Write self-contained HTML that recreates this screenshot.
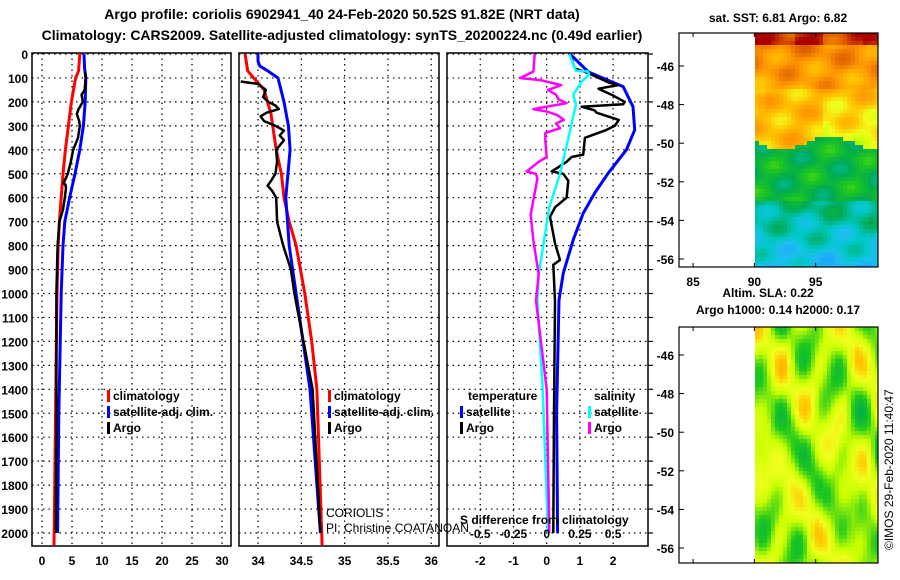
<!DOCTYPE html>
<html><head><meta charset="utf-8"><style>
body{margin:0;background:#fff;}
svg{display:block;font-family:"Liberation Sans",sans-serif;}
.b{font-weight:bold;font-size:12px;}
</style></head><body>
<svg id="c" width="900" height="580" viewBox="0 0 900 580">
<rect width="900" height="580" fill="#fff"/>
<text x="342" y="19" text-anchor="middle" font-size="14" font-weight="bold">Argo profile: coriolis 6902941_40 24-Feb-2020 50.52S 91.82E (NRT data)</text>
<text x="342" y="40" text-anchor="middle" font-size="14" font-weight="bold">Climatology: CARS2009. Satellite-adjusted climatology: synTS_20200224.nc (0.49d earlier)</text>
<g id="maps"></g>
<g id="plots"></g>
<text x="778" y="22" text-anchor="middle" class="b">sat. SST: 6.81  Argo: 6.82</text>
<text x="768" y="297" text-anchor="middle" class="b">Altim. SLA: 0.22</text>
<text x="778" y="314" text-anchor="middle" class="b">Argo h1000: 0.14 h2000: 0.17</text>
<text transform="translate(893,550) rotate(-90)" font-size="12">©IMOS 29-Feb-2020 11:40:47</text>
<text x="326" y="517" font-size="12">CORIOLIS</text>
<text x="326" y="532" font-size="12">PI: Christine COATANOAN</text>
<text x="460" y="524" class="b">S difference from climatology</text>
</svg>
<script>
// ---- data ----
const tClimD=[0,70,100,200,300,400,500,600,700,800,1000,1400,1850,2050];
const tClimV=[6.3,6.1,5.6,4.9,4.4,3.9,3.5,3.2,2.9,2.7,2.5,2.3,2.1,2.0];
const tSatD=[0,60,100,200,300,400,500,600,700,800,1000,1500,2000];
const tSatV=[7.0,7.1,7.3,7.2,6.9,6.3,5.5,4.6,3.8,3.5,3.2,2.8,2.6];
const tArgoD=[75,100,150,170,200,230,250,280,300,350,400,450,500,540,545,560,600,650,700,800,1000,1500,2000];
const tArgoV=[7.2,7.3,7.1,6.6,6.8,6.1,5.8,6.2,6.3,6.0,5.2,4.8,4.3,3.6,3.9,4.0,3.8,3.5,2.9,2.6,2.4,2.4,2.3];
const sClimD=[0,70,100,150,250,400,500,600,700,800,1000,1200,1400,2050];
const sClimV=[33.85,33.88,33.95,34.07,34.15,34.21,34.27,34.30,34.36,34.44,34.54,34.62,34.68,34.74];
const sSatD=[0,30,50,70,100,200,300,400,600,800,1000,1400,2000];
const sSatV=[34.0,34.0,34.02,34.11,34.23,34.30,34.35,34.37,34.32,34.36,34.44,34.6,34.72];
const sArgoD=[115,120,125,150,180,200,215,230,245,260,280,300,320,340,360,400,450,500,530,550,570,600,700,800,900,1000,1400,2000];
const sArgoV=[33.8,33.9,34.0,34.09,34.06,34.12,34.2,34.24,34.1,34.03,34.07,34.2,34.3,34.25,34.3,34.21,34.22,34.2,34.15,34.11,34.16,34.21,34.22,34.29,34.38,34.42,34.63,34.72];
const dTSatD=[0,75,136,220,317,400,498,580,665,776,915,1027,1500,2000];
const dTSatV=[0.7,1.26,2.3,2.6,2.65,2.4,1.85,1.45,1.1,0.8,0.5,0.37,0.3,0.33];
const dTArgoD=[0,60,80,118,130,145,170,200,210,220,235,245,275,300,320,350,420,430,450,490,500,530,600,640,680,790,860,880,1030,1500,2000];
const dTArgoV=[0.7,0.85,1.26,1.85,2.15,1.56,1.95,2.35,2.3,1.05,1.44,1.5,2.17,2.05,1.75,1.15,1.1,0.75,0.6,0.15,0.5,0.65,0.6,0.25,0.1,0.25,0.4,0.2,0.25,0.22,0.2];
const dSSatD=[0,70,73,85,118,170,210,360,500,640,780,920,1030,1400,2000];
const dSSatV=[0.17,0.22,0.31,0.32,0.26,0.2,0.22,0.16,0.1,0.02,-0.02,-0.06,-0.07,-0.03,0.01];
const dSArgoD=[0,73,100,110,130,150,170,190,205,220,230,240,255,275,290,310,330,360,430,450,490,500,520,670,780,920,1030,1400,2000];
const dSArgoV=[-0.09,-0.1,-0.2,-0.04,0.11,0.01,0.07,0.09,0.15,0.0,-0.1,0.0,0.08,0.13,0.07,0.1,-0.01,-0.01,0,-0.06,-0.15,-0.08,-0.07,-0.12,-0.1,-0.06,-0.08,0,0.02];
const depthTicks=[0,100,200,300,400,500,600,700,800,900,1000,1100,1200,1300,1400,1500,1600,1700,1800,1900,2000];
const tTicks=[0,5,10,15,20,25,30];
const sTicks=[34,34.5,35,35.5,36];
const sTickLabels=["34","34.5","35","35.5","36"];
const dTicks=[-2,-1,0,1,2];
const dSTicks=[-0.5,-0.25,0,0.25,0.5];
const latTicks=[-46,-48,-50,-52,-54,-56];
const lonTicks=[85,90,95];
// ---- helpers ----
const NS="http://www.w3.org/2000/svg";
const plots=document.getElementById('plots');
function el(tag,attrs,parent){const e=document.createElementNS(NS,tag);for(const k in attrs)e.setAttribute(k,attrs[k]);(parent||plots).appendChild(e);return e;}
const TOP=53,BOT=546;
const yD=d=>54+d*0.2395;
const panels=[
 {x0:32,x1:231,v0:-1.67,v1:31.5,name:'temperature-panel'},
 {x0:239,x1:439,v0:33.78,v1:36.09,name:'salinity-panel'},
 {x0:447,x1:648,v0:-3.0,v1:3.05,name:'difference-panel'}];
panels.forEach(p=>p.x=v=>p.x0+(v-p.v0)/(p.v1-p.v0)*(p.x1-p.x0));
function poly(p,D,V,color,w,name,scale){
 const pts=D.map((d,i)=>p.x(V[i]*(scale||1)).toFixed(1)+','+yD(d).toFixed(1)).join(' ');
 const e=el('polyline',{points:pts,fill:'none',stroke:color,'stroke-width':w,'stroke-linejoin':'round'});
 
 
}
panels.forEach((p,pi)=>{
 const g=el('g',{});
 
 
 depthTicks.forEach(d=>{el('line',{x1:p.x0,x2:p.x1,y1:yD(d),y2:yD(d),stroke:'#000','stroke-width':1.2,'stroke-dasharray':'1.5,4'},g);});
 const vt=pi==0?tTicks:pi==1?sTicks:dTicks;
 vt.forEach(v=>{el('line',{x1:p.x(v),x2:p.x(v),y1:TOP,y2:BOT,stroke:'#000','stroke-width':1.2,'stroke-dasharray':'1.5,4'},g);});
 vt.forEach((v,i)=>{const t=el('text',{x:p.x(v),y:565,'text-anchor':'middle',class:'b'},g);t.textContent=pi==1?sTickLabels[i]:String(v);
  
  });
 el('rect',{x:p.x0,y:TOP,width:p.x1-p.x0,height:BOT-TOP,fill:'none',stroke:'#000','stroke-width':1.5},g);
});
depthTicks.forEach(d=>{const t=el('text',{x:28,y:yD(d)+5,'text-anchor':'end',class:'b'});t.textContent=d;
 
 
 el('line',{x1:648,x2:653,y1:yD(d),y2:yD(d),stroke:'#000','stroke-width':1.2});});
const P1=panels[0],P2=panels[1],P3=panels[2];
poly(P1,tClimD,tClimV,'#f00',3,'temp-climatology-line');
poly(P1,tSatD,tSatV,'#00f',3,'temp-satellite-line');
poly(P1,tArgoD,tArgoV,'#000',2.5,'temp-argo-line');
poly(P2,sClimD,sClimV,'#f00',3,'sal-climatology-line');
poly(P2,sSatD,sSatV,'#00f',3,'sal-satellite-line');
poly(P2,sArgoD,sArgoV,'#000',2.5,'sal-argo-line');
poly(P3,dTSatD,dTSatV,'#00f',3,'temp-diff-satellite-line');
poly(P3,dTArgoD,dTArgoV,'#000',2.5,'temp-diff-argo-line');
poly(P3,dSSatD,dSSatV,'#0ff',2.5,'sal-diff-satellite-line',4);
poly(P3,dSArgoD,dSArgoV,'#f0f',2.5,'sal-diff-argo-line',4);
dSTicks.forEach(v=>{const t=el('text',{x:P3.x(v*4),y:538,'text-anchor':'middle',class:'b'});t.textContent=String(v);
 
 });
function leg(x,y,color,label,name){
 el('rect',{x:x,y:y-10,width:3,height:12,fill:color});
 const t=el('text',{x:x+6,y:y,class:'b'});t.textContent=label;
 
 
}
leg(107,400,'#f00','climatology','legend-climatology');
leg(107,416,'#00f','satellite-adj. clim.','legend-satellite-adj');
leg(107,432,'#000','Argo','legend-argo');
leg(328,400,'#f00','climatology','legend2-climatology');
leg(328,416,'#00f','satellite-adj. clim.','legend2-satellite-adj');
leg(328,432,'#000','Argo','legend2-argo');
(function(){const t=el('text',{x:468,y:400,class:'b'});t.textContent='temperature';
 
 const s=el('text',{x:594,y:400,class:'b'});s.textContent='salinity';
 })();
leg(460,416,'#00f','satellite','legend-temp-satellite');
leg(460,432,'#000','Argo','legend-temp-argo');
leg(588,416,'#0ff','satellite','legend-sal-satellite');
leg(588,432,'#f0f','Argo','legend-sal-argo');
// ---- maps ----
const maps=document.getElementById('maps');
const stops=[[0.2,[20,140,255]],[0.3,[30,190,240]],[0.36,[0,200,200]],[0.44,[0,170,80]],[0.52,[30,200,30]],[0.6,[200,255,0]],[0.66,[240,255,30]],[0.72,[255,200,0]],[0.8,[255,150,0]],[0.88,[220,90,0]],[0.96,[170,0,0]]];
function cmap(v){if(v<=stops[0][0])return stops[0][1];for(let i=1;i<stops.length;i++){if(v<=stops[i][0]){const a=stops[i-1],b=stops[i],f=(v-a[0])/(b[0]-a[0]);return a[1].map((c,k)=>Math.round(c+(b[1][k]-c)*f));}}return stops[stops.length-1][1];}
function drawMap(top,bot,y46,fn,name){
 const g=el('g',{},maps);
 
 
 const x0=755,x1=878,cs=4;
 for(let y=top;y<bot;y+=cs)for(let x=x0;x<x1;x+=cs){
  const u=(x-x0)/(x1-x0);
  const c=cmap(fn(u,y-top));
  el('rect',{x:x,y:y,width:Math.min(cs,x1-x),height:Math.min(cs,bot-y),fill:'rgb('+c.join(',')+')'},g);
 }
 el('rect',{x:679,y:top,width:199,height:bot-top,fill:'none',stroke:'#000','stroke-width':1.2},g);
 const latY=l=>y46+(-46-l)*19.3;
 latTicks.forEach(l=>{const yy=latY(l);el('line',{x1:679,x2:684,y1:yy,y2:yy,stroke:'#000'},g);
  const t=el('text',{x:674,y:yy+5,'text-anchor':'end',class:'b'},g);t.textContent=l;
  });
 lonTicks.forEach(l=>{const xx=679+(l-83.85)/5*61.3;el('line',{x1:xx,x2:xx,y1:bot,y2:bot-4,stroke:'#000'},g);el('line',{x1:xx,x2:xx,y1:top,y2:top+4,stroke:'#000'},g);});
}
drawMap(33,267,66,(u,yy)=>{
 const n=0.035*Math.sin(u*17+yy*0.09)+0.03*Math.cos(u*7-yy*0.2);
 const edge=108+6*Math.sin(u*8);
 let base;
 if(yy<10)base=0.9;
 else if(yy<55)base=0.83-0.001*yy;
 else if(yy<edge)base=0.74-0.08*(u>0.55?1:0)*((yy-55)/50);
 else if(yy<165)base=0.47;
 else base=0.42-0.0017*(yy-165);
 if(yy<12&&(u<0.1||(u>0.3&&u<0.55)||u>0.85))base=0.95;
 return base+n;
},'sst-map');
drawMap(327,563,355,(u,yy)=>{
 const w=yy/236;
 return 0.63+0.07*Math.sin(u*19+1)*Math.cos(w*17+0.5)+0.06*Math.sin(u*9-w*13+2)-0.05*Math.abs(Math.sin(u*11+w*5));
},'sla-map');
lonTicks.forEach(l=>{const t=el('text',{x:679+(l-83.85)/5*61.3,y:286,'text-anchor':'middle',class:'b'},maps);t.textContent=l;
 });
</script>
</body></html>
